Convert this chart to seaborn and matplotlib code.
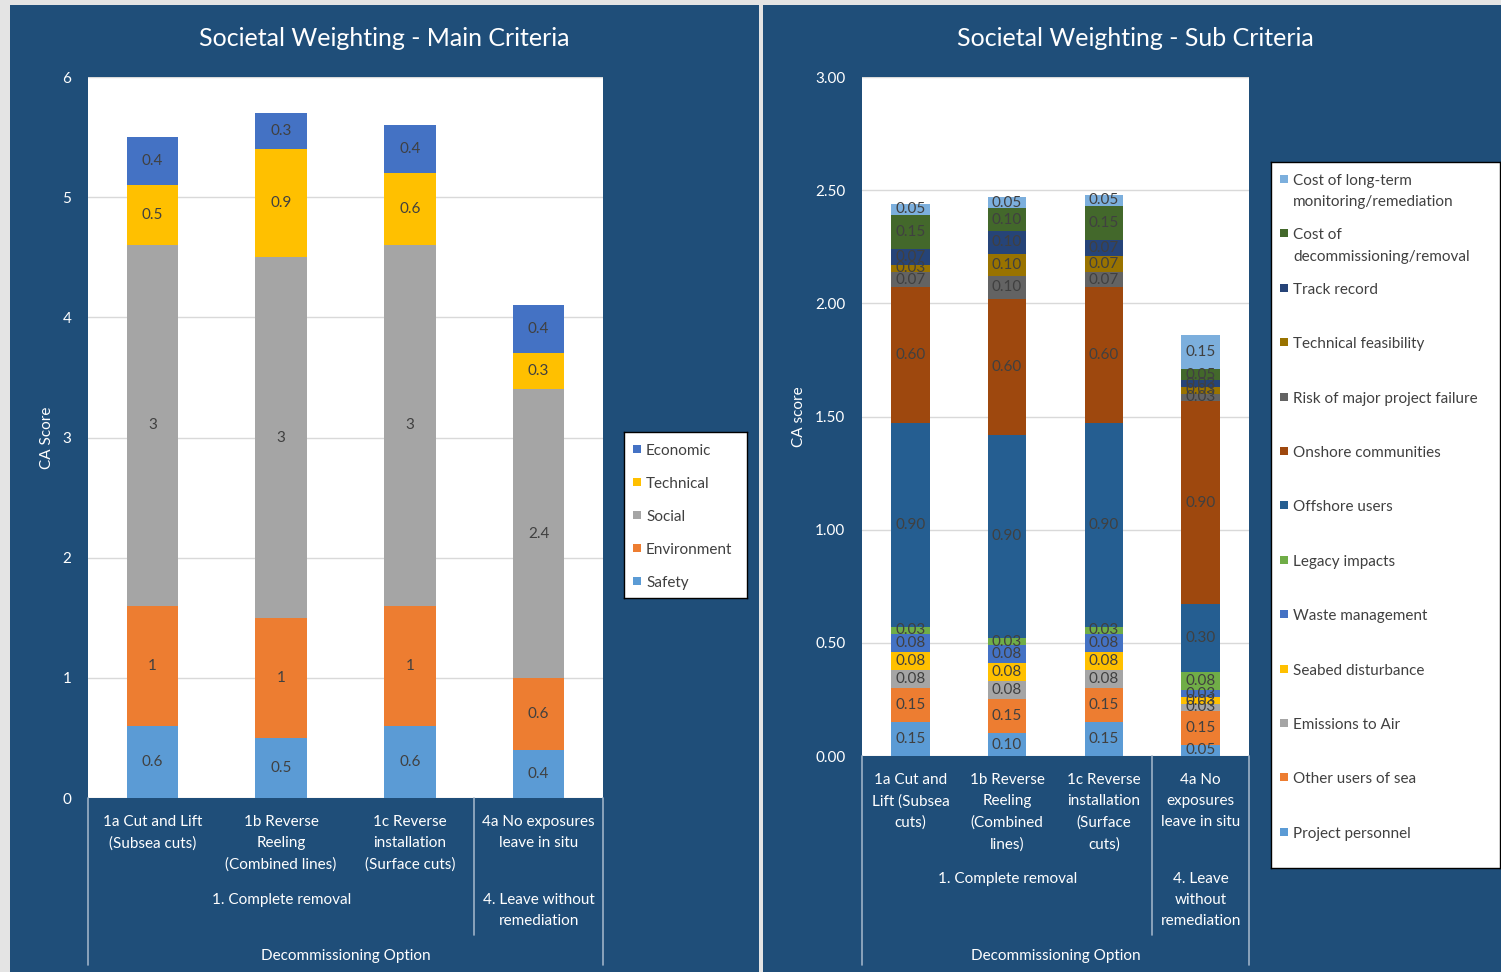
import numpy as np
import matplotlib
matplotlib.use("Agg")
import matplotlib.pyplot as plt
from matplotlib.patches import Rectangle
import seaborn as sns

# ---- data -------------------------------------------------------------
options = ["1a", "1b", "1c", "4a"]
labels_main = ["1a Cut and Lift\n(Subsea cuts)", "1b Reverse\nReeling\n(Combined lines)",
               "1c Reverse\ninstallation\n(Surface cuts)", "4a No exposures\nleave in situ"]
labels_sub = ["1a Cut and\nLift (Subsea\ncuts)", "1b Reverse\nReeling\n(Combined\nlines)",
              "1c Reverse\ninstallation\n(Surface\ncuts)", "4a No\nexposures\nleave in situ"]
groups_main = ["1. Complete removal", "4. Leave without\nremediation"]
groups_sub = ["1. Complete removal", "4. Leave\nwithout\nremediation"]

main_criteria = ["Safety", "Environment", "Social", "Technical", "Economic"]
main_colors = ["#5B9BD5", "#ED7D31", "#A5A5A5", "#FFC000", "#4472C4"]
safety = [0.6, 0.5, 0.6, 0.4]
environment = [1, 1, 1, 0.6]
social = [3, 3, 3, 2.4]
technical = [0.5, 0.9, 0.6, 0.3]
economic = [0.4, 0.3, 0.4, 0.4]

sub_criteria = ["Project personnel", "Other users of sea", "Emissions to Air", "Seabed disturbance",
                "Waste management", "Legacy impacts", "Offshore users", "Onshore communities",
                "Risk of major project failure", "Technical feasibility", "Track record",
                "Cost of\ndecommissioning/removal", "Cost of long-term\nmonitoring/remediation"]
sub_colors = ["#5B9BD5", "#ED7D31", "#A5A5A5", "#FFC000", "#4472C4", "#70AD47", "#255E91",
              "#9E480E", "#636363", "#997300", "#264478", "#43682B", "#7CAFDD"]
project_personnel = [0.15, 0.10, 0.15, 0.05]
other_users_of_sea = [0.15, 0.15, 0.15, 0.15]
emissions_to_air = [0.08, 0.08, 0.08, 0.03]
seabed_disturbance = [0.08, 0.08, 0.08, 0.03]
waste_management = [0.08, 0.08, 0.08, 0.03]
legacy_impacts = [0.03, 0.03, 0.03, 0.08]
offshore_users = [0.90, 0.90, 0.90, 0.30]
onshore_communities = [0.60, 0.60, 0.60, 0.90]
risk_of_failure = [0.07, 0.10, 0.07, 0.03]
technical_feasibility = [0.03, 0.10, 0.07, 0.03]
track_record = [0.07, 0.10, 0.07, 0.03]
cost_of_removal = [0.15, 0.10, 0.15, 0.05]
cost_of_monitoring = [0.05, 0.05, 0.05, 0.15]

main_series = [safety, environment, social, technical, economic]
sub_series = [project_personnel, other_users_of_sea, emissions_to_air, seabed_disturbance,
              waste_management, legacy_impacts, offshore_users, onshore_communities,
              risk_of_failure, technical_feasibility, track_record, cost_of_removal,
              cost_of_monitoring]

# ---- style ------------------------------------------------------------
sns.set_style("white")
plt.rcParams["font.family"] = ["Lato", "DejaVu Sans"]
NAVY = "#1F4E79"
LINE = "#9DB1C6"
LABEL = "#404040"
LSP = 1.65
W, H = 1501, 972

fig = plt.figure(figsize=(W / 100, H / 100), dpi=100, facecolor="#E4E4E4")


def fx(px):
    return px / W


def fy(py):
    return 1 - py / H


def panel(x0, x1):
    fig.add_artist(Rectangle((fx(x0), 0), fx(x1) - fx(x0), fy(5), transform=fig.transFigure,
                             facecolor=NAVY, edgecolor="none", zorder=-5))


def make_axes(x0, y0, x1, y1):
    ax = fig.add_axes([fx(x0), fy(y1), fx(x1) - fx(x0), fy(y0) - fy(y1)])
    ax.set_facecolor("white")
    return ax


def stacked(ax, series, colors, fmt):
    cum = np.cumsum(np.array(series, dtype=float), axis=0)
    # draw tallest cumulative first so lower segments sit on top
    for k in range(len(series) - 1, -1, -1):
        sns.barplot(x=options, y=cum[k], color=colors[k], width=0.4, saturation=1,
                    linewidth=0, errorbar=None, ax=ax, zorder=2)
    for k, vals in enumerate(series):
        for i, v in enumerate(vals):
            ax.text(i, cum[k][i] - v / 2, fmt(v), ha="center", va="center",
                    color=LABEL, fontsize=11, zorder=3)


def category_axis(ax, labels, groups, y_px0, y_px1, group_y, title_y, bottom_y, mid_y):
    span = y_px1 - y_px0
    frac = lambda py: (y_px1 - py) / span
    ax.set_xticks(range(len(options)), labels)
    ax.tick_params(axis="x", colors="white", labelsize=11, length=0, pad=12)
    for t in ax.get_xticklabels():
        t.set_linespacing(LSP)
    tr = ax.get_xaxis_transform()
    ax.text(1, frac(group_y), groups[0], transform=tr, ha="center", va="top", color="white",
            fontsize=11, linespacing=LSP)
    ax.text(3, frac(group_y), groups[1], transform=tr, ha="center", va="top", color="white",
            fontsize=11, linespacing=LSP)
    ax.text(1.5, frac(title_y), "Decommissioning Option", transform=tr, ha="center",
            va="top", color="white", fontsize=11)
    for xv, yb in [(-0.5, bottom_y), (2.5, mid_y), (3.5, bottom_y)]:
        ax.plot([xv, xv], [0, frac(yb)], transform=tr, color=LINE, lw=1.2, clip_on=False)


def style_axes(ax, ymax, step, ylabel, yfmt, label_x):
    ax.set_xlim(-0.5, 3.5)
    ax.set_ylim(0, ymax)
    ticks = np.arange(0, ymax + step / 2, step)
    ax.set_yticks(ticks, [yfmt(t) for t in ticks])
    ax.tick_params(axis="y", colors="white", labelsize=11, length=0, pad=12)
    ax.grid(axis="y", color="#D9D9D9", lw=1)
    ax.set_axisbelow(True)
    for s in ax.spines.values():
        s.set_visible(False)
    ax.set_xlabel("")
    ax.set_ylabel(ylabel, color="white", fontsize=11)
    ax.yaxis.set_label_coords(label_x, 0.5)


def draw_legend(x0, y0, x1, y1, names, colors, first, step, mark_x, text_x):
    lax = fig.add_axes([fx(x0), fy(y1), fx(x1) - fx(x0), fy(y0) - fy(y1)])
    lax.set_xlim(x0, x1)
    lax.set_ylim(y1, y0)
    lax.set_facecolor("white")
    lax.set_xticks([])
    lax.set_yticks([])
    for s in lax.spines.values():
        s.set_color("black")
        s.set_linewidth(1)
    for i, (name, col) in enumerate(zip(names[::-1], colors[::-1])):
        yc = first + step * i
        lax.add_patch(Rectangle((mark_x - 4, yc - 4), 8, 8, facecolor=col, edgecolor="none"))
        lax.text(text_x, yc - 5, name, ha="left", va="top", color=LABEL, fontsize=11,
                 linespacing=LSP)


panel(10, 759)
panel(763, W)

# ---- left: main criteria ----------------------------------------------
ax1 = make_axes(88, 77, 603, 798)
stacked(ax1, main_series, main_colors, lambda v: f"{v:g}")
style_axes(ax1, 6, 1, "CA Score", lambda t: f"{t:g}", -0.066)
category_axis(ax1, labels_main, groups_main, 77, 798, 893, 949, 965, 935)
fig.text(fx(384), fy(38), "Societal Weighting - Main Criteria", ha="center", va="center",
         color="white", fontsize=18)
draw_legend(624, 432, 747, 598, main_criteria, main_colors, 449, 33, 637, 646)

# ---- right: sub criteria ----------------------------------------------
ax2 = make_axes(862, 77, 1249, 756)
stacked(ax2, sub_series, sub_colors, lambda v: f"{v:.2f}")
style_axes(ax2, 3.0, 0.5, "CA score", lambda t: f"{t:.2f}", -0.145)
category_axis(ax2, labels_sub, groups_sub, 77, 756, 872, 949, 965, 935)
fig.text(fx(1135), fy(38), "Societal Weighting - Sub Criteria", ha="center", va="center",
         color="white", fontsize=18)
draw_legend(1271, 162, 1500, 868, sub_criteria, sub_colors, 179, 54.4, 1284, 1293)

fig.savefig("out.png", dpi=100, facecolor=fig.get_facecolor())
